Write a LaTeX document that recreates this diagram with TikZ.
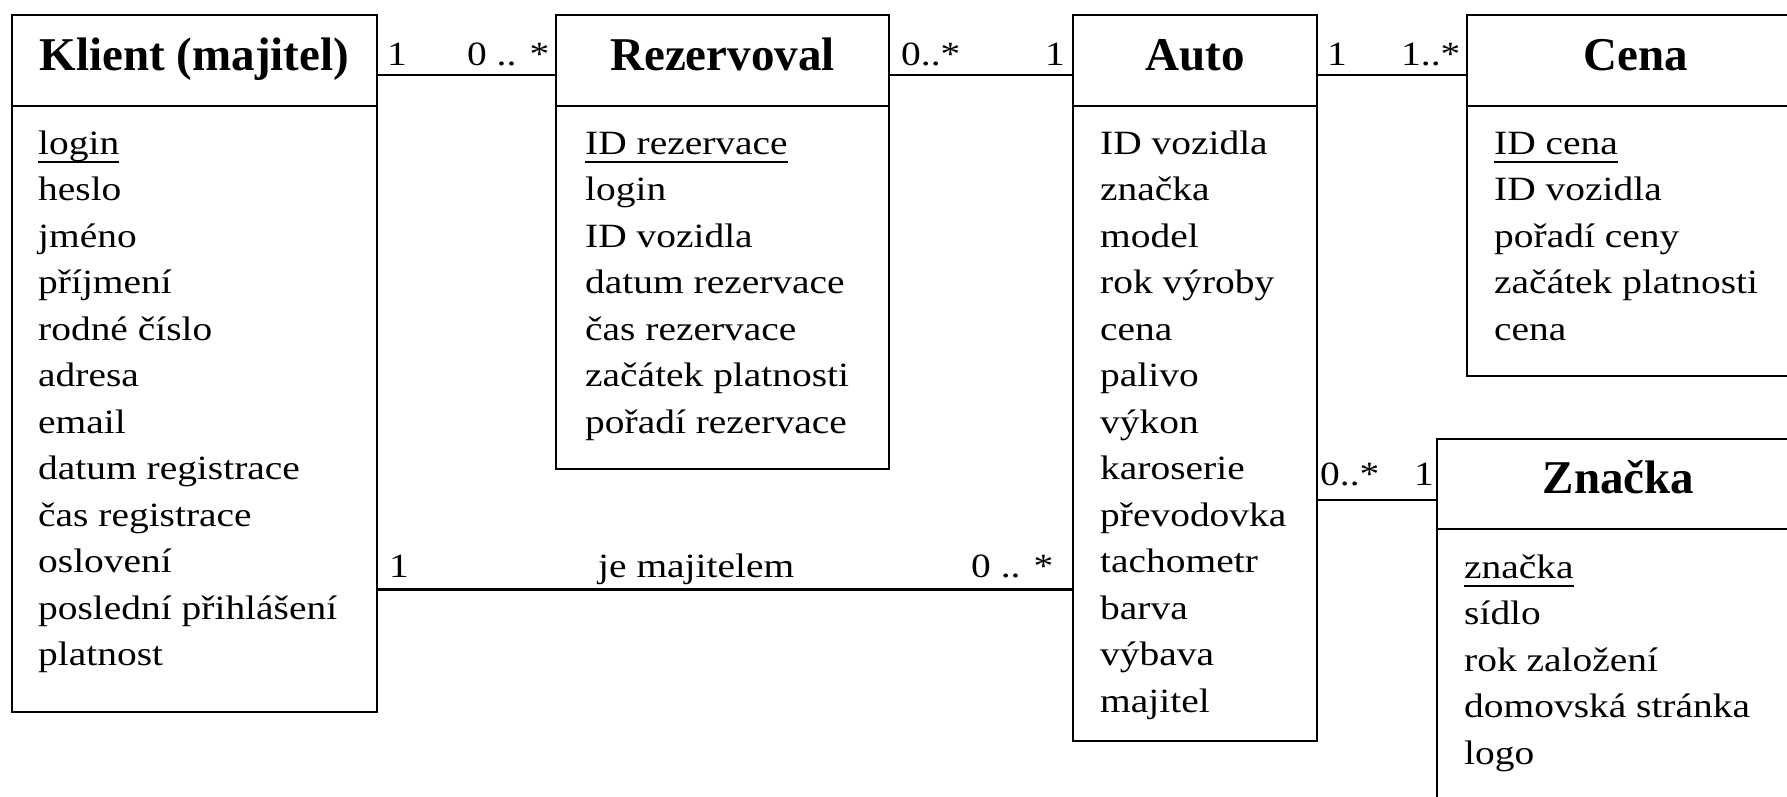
\documentclass[tikz,border=0pt]{standalone}
\usepackage{fontspec}
\setmainfont{Liberation Serif}
\newfontfamily\bodyfont{Liberation Serif}[FakeStretch=1.16]
\newcommand\ulk[1]{\setbox0\hbox{#1}\rlap{\rule[-9.2pt]{\wd0}{2.4pt}}\box0}
\newcommand\attrs[5]{%
  \foreach \t [count=\i from 0] in {#4} {\node[attr] (#5\i) at (#1, {#2+#3*\i}) {\t};}}
\tikzset{
  box/.style={draw, line width=2.6pt, inner sep=0pt, outer sep=0pt, anchor=north west},
  hdr/.style={box, font=\bfseries\fontsize{47pt}{50pt}\selectfont, text height=30pt, text depth=9pt},
  attr/.style={inner sep=0pt, anchor=base west, font=\bodyfont\fontsize{34pt}{40pt}\selectfont},
  lab/.style={attr},
  conn/.style={line width=2.6pt},
}
\begin{document}
\begin{tikzpicture}[x={(1pt,0)}, y={(0,-1pt)}]
\useasboundingbox (0,0) rectangle (1787,797);
\clip (0,0) rectangle (1787,797);
% Klient
\node[hdr, minimum width=365pt, minimum height=91pt] (kH) at (12,15) {Klient (majitel)};
\node[box, minimum width=365pt, minimum height=606pt] (kB) at (kH.south west) {};
\attrs{38}{154}{46.5}{\ulk{login},heslo,jméno,příjmení,rodné číslo,adresa,email,datum registrace,čas registrace,oslovení,poslední přihlášení,platnost}{ka}
% Rezervoval
\node[hdr, minimum width=333pt, minimum height=91pt] (rH) at (556,15) {Rezervoval};
\node[box, minimum width=333pt, minimum height=363pt] (rB) at (rH.south west) {};
\attrs{585}{154}{46.5}{\ulk{ID rezervace},login,ID vozidla,datum rezervace,čas rezervace,začátek platnosti,pořadí rezervace}{ra}
% Auto
\node[hdr, minimum width=244pt, minimum height=91pt] (aH) at (1073,15) {Auto};
\node[box, minimum width=244pt, minimum height=635pt] (aB) at (aH.south west) {};
\attrs{1100}{154}{46.5}{ID vozidla,značka,model,rok výroby,cena,palivo,výkon,karoserie,převodovka,tachometr,barva,výbava,majitel}{aa}
% Cena
\node[hdr, minimum width=337pt, minimum height=91pt] (cH) at (1467,15) {Cena};
\node[box, minimum width=337pt, minimum height=270pt] (cB) at (cH.south west) {};
\attrs{1494}{154}{46.5}{\ulk{ID cena},ID vozidla,pořadí ceny,začátek platnosti,cena}{ca}
% Znacka
\node[hdr, minimum width=363pt, minimum height=90pt, text height=27pt, text depth=9pt] (zH) at (1437,439) {Značka};
\node[box, minimum width=363pt, minimum height=330pt] (zB) at (zH.south west) {};
\attrs{1464}{578}{46.5}{\ulk{značka},sídlo,rok založení,domovská stránka,logo}{za}
% connectors
\draw[conn] ([yshift=-14.5pt]kH.east) coordinate (k1) -- (k1 -| rH.west);
\draw[conn] ([yshift=-14.5pt]rH.east) coordinate (r1) -- (r1 -| aH.west);
\draw[conn] ([yshift=-14.5pt]aH.east) coordinate (a1) -- (a1 -| cH.west);
\draw[conn] ([yshift=-16pt]zH.west) coordinate (z1) -- (z1 -| aB.east);
\draw[conn] ([yshift=-180.5pt]kB.east) coordinate (k2) -- (k2 -| aB.west);
% multiplicities
\node[lab] (m1) at (387,66) {1};
\node[lab] (m2) at (467,66) {0 .. *};
\node[lab] (m3) at (901,66) {0..*};
\node[lab] (m4) at (1045,66) {1};
\node[lab] (m5) at (1327,66) {1};
\node[lab] (m6) at (1401,66) {1..*};
\node[lab] (m7) at (1320,485) {0..*};
\node[lab] (m8) at (1414,485) {1};
\node[lab] (m9) at (389,577) {1};
\node[lab] (m10) at (598,577) {je majitelem};
\node[lab] (m11) at (971,577) {0 .. *};
\end{tikzpicture}
\end{document}
